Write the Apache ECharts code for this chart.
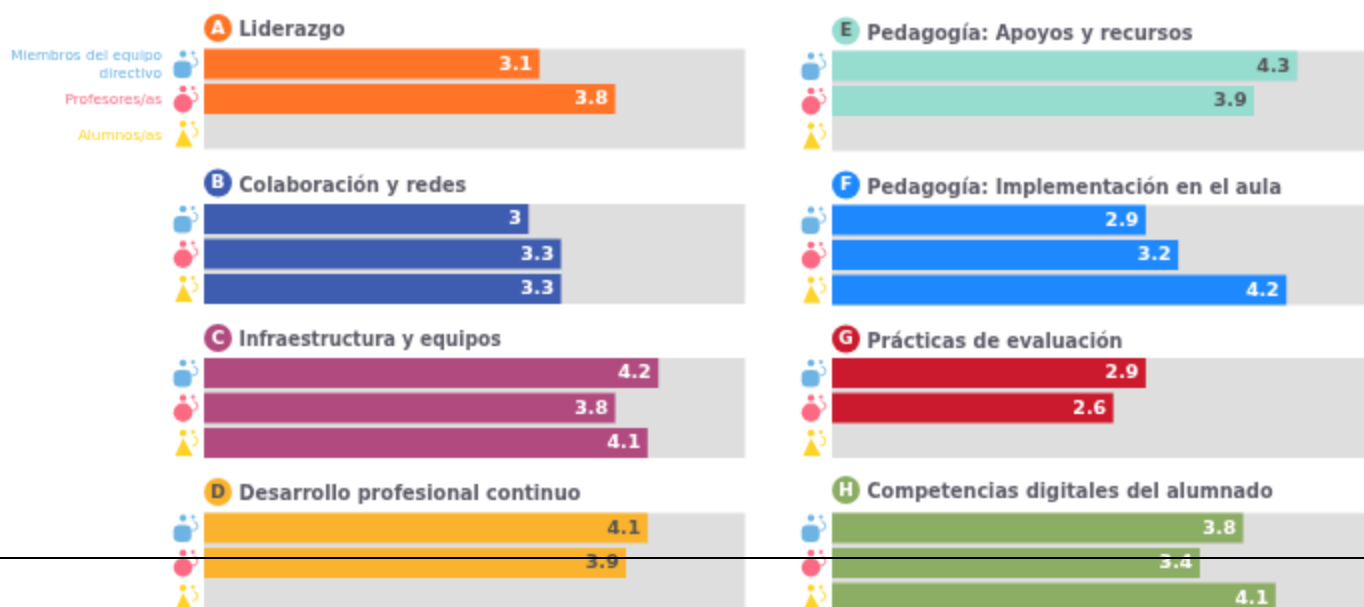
<!DOCTYPE html>
<html>
<head>
<meta charset="utf-8">
<title>Selfie</title>
<script src="https://cdn.jsdelivr.net/npm/echarts@6/dist/echarts.min.js"></script>
<style>
html, body { margin: 0; padding: 0; background: #fff; overflow: hidden; }
#page { position: relative; width: 1364px; height: 607px; overflow: hidden; }
#chart { width: 1380px; height: 620px; }
#cut { position: absolute; left: 0; top: 557px; width: 1364px; height: 2px; background: #000; }
</style>
</head>
<body>
<div id="page">
<div id="chart"></div>
<div id="cut"></div>
</div>
<script>
// datos
var letters = ['A', 'B', 'C', 'D', 'E', 'F', 'G', 'H'];
var areas = [
    'Liderazgo',
    'Colaboración y redes',
    'Infraestructura y equipos',
    'Desarrollo profesional continuo',
    'Pedagogía: Apoyos y recursos',
    'Pedagogía: Implementación en el aula',
    'Prácticas de evaluación',
    'Competencias digitales del alumnado'
];
var groups = ['Miembros del equipo directivo', 'Profesores/as', 'Alumnos/as'];
var miembros = [3.1, 3, 4.2, 4.1, 4.3, 2.9, 2.9, 3.8];
var profesores = [3.8, 3.3, 3.8, 3.9, 3.9, 3.2, 2.6, 3.4];
var alumnos = [null, 3.3, 4.1, null, null, 4.2, null, 4.1];
var groupValues = [miembros, profesores, alumnos];

// estilos y posiciones
var areaColors = ['#ff7427', '#3f5db0', '#b04a7f', '#fbb32e', '#96dccf', '#1e88ff', '#cb1a2d', '#8cad64'];
var textColors = ['#fff', '#fff', '#fff', '#555', '#555', '#fff', '#fff', '#fff'];
var groupColors = ['#6db3e4', '#fb6a82', '#fdd327'];
var panelLeft = [204, 204, 204, 204, 832, 832, 832, 832];
var panelTop = [49, 204, 358, 513, 51, 205, 358, 513];
var titleY = [29, 184, 339, 493, 32, 186, 340, 491];
// el titulo C va mas apretado en la imagen original
var titleScale = [1, 1, 0.95, 1, 1, 1, 1, 1];
var panelWidth = 541;
var panelHeight = 100;
var rowY = [15, 50, 85];

// el lienzo se pinta a media resolucion, igual que la imagen original
var myChart = echarts.init(document.getElementById('chart'), null, {devicePixelRatio: 0.5});

var grids = [];
var xAxes = [];
var yAxes = [];
var series = [];
var graphics = [];

function addIcon(x, y, type) {
    var color = groupColors[type];
    // cabeza y figura pequena
    graphics.push({type: 'circle', shape: {cx: x + 9, cy: y - 10, r: 3.5}, style: {fill: color}});
    graphics.push({type: 'circle', shape: {cx: x + 19, cy: y - 11, r: 2}, style: {fill: color}});
    graphics.push({
        type: 'arc',
        shape: {cx: x + 19, cy: y - 2, r: 4.5, startAngle: -1.5, endAngle: 1.8},
        style: {stroke: color, lineWidth: 1.6, fill: null}
    });
    if (type === 0) {
        graphics.push({type: 'rect', shape: {x: x - 0.5, y: y - 3, width: 18, height: 17, r: 6}, style: {fill: color}});
    } else if (type === 1) {
        graphics.push({type: 'circle', shape: {cx: x + 9, cy: y + 4.5, r: 9.5}, style: {fill: color}});
    } else {
        graphics.push({type: 'polygon', shape: {points: [[x + 9, y - 5], [x + 19, y + 13], [x + 1, y + 13]]}, style: {fill: color}});
    }
}

areas.forEach(function (name, i) {
    grids.push({
        left: panelLeft[i],
        top: panelTop[i],
        width: panelWidth,
        height: panelHeight,
        show: true,
        backgroundColor: '#dedede',
        borderWidth: 0
    });
    xAxes.push({gridIndex: i, type: 'value', min: 0, max: 5, show: false});
    yAxes.push({gridIndex: i, type: 'category', data: [name], inverse: true, show: false});

    groups.forEach(function (group, g) {
        series.push({
            name: group,
            type: 'bar',
            xAxisIndex: i,
            yAxisIndex: i,
            data: [groupValues[g][i]],
            barWidth: 30,
            barGap: '16.67%',
            silent: true,
            itemStyle: {color: areaColors[i]},
            label: {
                show: true,
                position: 'insideRight',
                distance: 7,
                offset: [0, 1],
                color: textColors[i],
                fontFamily: 'DejaVu Sans',
                fontWeight: 'bold',
                fontSize: 19
            }
        });
        addIcon(panelLeft[i] - 30, panelTop[i] + rowY[g], g);
    });

    graphics.push({
        type: 'circle',
        shape: {cx: panelLeft[i] + 14, cy: titleY[i] - 1, r: 14},
        style: {fill: areaColors[i]}
    });
    graphics.push({
        type: 'text',
        x: panelLeft[i] + 14,
        y: titleY[i],
        style: {
            text: letters[i],
            fill: textColors[i],
            font: 'bold 18px "DejaVu Sans"',
            align: 'center',
            verticalAlign: 'middle'
        }
    });
    graphics.push({
        type: 'text',
        x: panelLeft[i] + 35,
        y: titleY[i] + 2.5,
        scaleX: titleScale[i],
        style: {
            text: name,
            fill: '#5a5a66',
            font: 'bold 19.2px "DejaVu Sans"',
            align: 'left',
            verticalAlign: 'middle'
        }
    });
});

// leyenda de la izquierda, solo en el primer panel
var legendLines = [['Miembros del equipo', 56, 0], ['directivo', 75, 0], [groups[1], 100, 1], [groups[2], 136, 2]];
legendLines.forEach(function (item) {
    graphics.push({
        type: 'text',
        x: 162,
        y: item[1],
        style: {
            text: item[0],
            fill: groupColors[item[2]],
            font: '14.5px "DejaVu Sans"',
            align: 'right',
            verticalAlign: 'middle'
        }
    });
});

var option = {
    animation: false,
    grid: grids,
    xAxis: xAxes,
    yAxis: yAxes,
    series: series,
    graphic: {elements: graphics}
};

myChart.setOption(option);
</script>
</body>
</html>
